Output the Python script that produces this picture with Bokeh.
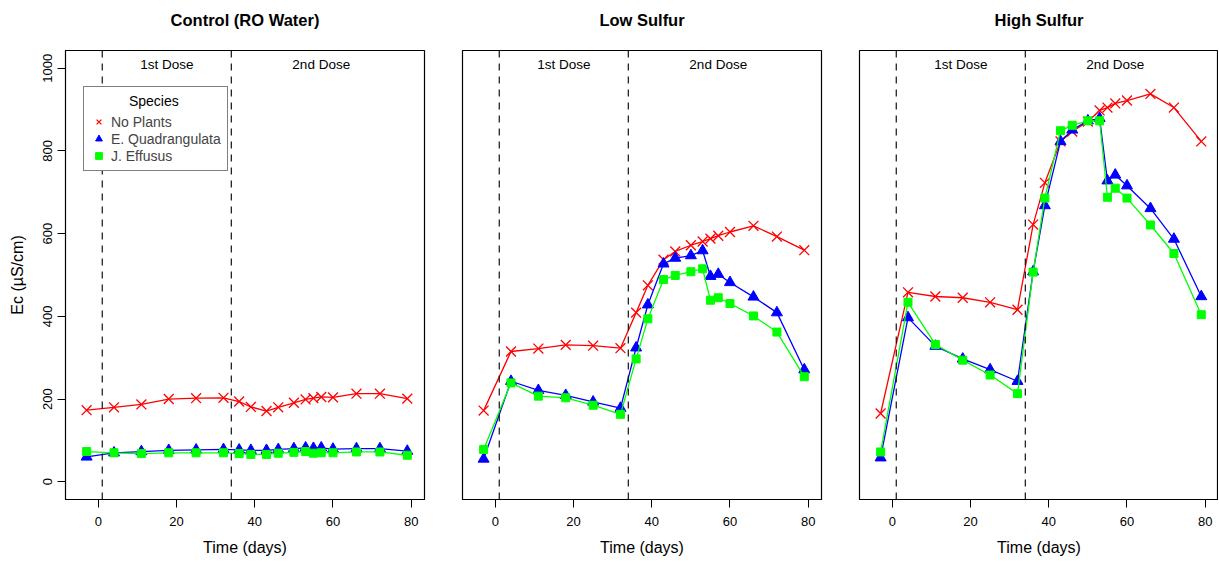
from bokeh.plotting import figure
from bokeh.layouts import row
from bokeh.models import Span, Legend, LegendItem, Range1d, FixedTicker, Title
from bokeh.core.properties import value
from bokeh.embed import file_html
from bokeh.resources import INLINE

# ---------------- data ----------------
days = [-3, 4, 11, 18, 25, 32, 36, 39, 43, 46, 50, 53, 55, 57, 60, 66, 72, 79]

panel_titles = ["Control (RO Water)", "Low Sulfur", "High Sulfur"]
species = ["No Plants", "E. Quadrangulata", "J. Effusus"]
legend_title = "Species"

control_no_plants = [173, 180, 187, 200, 202, 203, 194, 181, 171, 180, 191, 199, 202, 205, 204, 213, 213, 201]
control_e_quad = [60, 70, 73, 76, 77, 78, 77, 76, 76, 78, 80, 82, 81, 82, 79, 80, 80, 74]
control_j_eff = [73, 70, 68, 70, 70, 70, 68, 66, 66, 69, 71, 73, 69, 70, 70, 72, 72, 64]

low_no_plants = [172, 315, 322, 331, 329, 323, 409, 475, 537, 557, 572, 581, 588, 595, 604, 619, 593, 560]
low_e_quad = [55, 243, 221, 209, 193, 178, 324, 428, 527, 541, 547, 559, 497, 502, 482, 447, 409, 271]
low_j_eff = [78, 239, 207, 203, 185, 163, 297, 394, 489, 499, 508, 515, 439, 445, 431, 401, 362, 254]

high_no_plants = [165, 458, 448, 445, 434, 416, 622, 723, 823, 847, 871, 898, 905, 915, 922, 938, 905, 823]
high_e_quad = [58, 397, 328, 297, 271, 243, 508, 668, 823, 851, 873, 879, 728, 742, 716, 661, 587, 448]
high_j_eff = [72, 434, 332, 294, 258, 213, 507, 686, 849, 862, 873, 873, 688, 710, 686, 621, 552, 404]

dose_days = [1, 34]
dose_labels = ["1st Dose", "2nd Dose"]
dose_label_x = [17.5, 57]
dose_label_y = [1010, 1010]

x_ticks = [0, 20, 40, 60, 80]
y_ticks = [0, 200, 400, 600, 800, 1000]

panels = [
    (control_no_plants, control_e_quad, control_j_eff),
    (low_no_plants, low_e_quad, low_j_eff),
    (high_no_plants, high_e_quad, high_j_eff),
]

colors = ["#FF0000", "#0000FF", "#00FF00"]
markers = ["x", "triangle", "square"]
msizes = [14, 11, 8]

FONT = "Liberation Sans"

X_LO, X_HI = -8.4, 83.4
Y_LO, Y_HI = -43, 1043
FRAME_W = 359
TOP, BOTTOM = 50, 54
FRAME_H = 454
borders = [(65, 19), (19, 19), (19, 0)]

figs = []
for i, (title, series) in enumerate(zip(panel_titles, panels)):
    bl, br = borders[i]
    p = figure(width=bl + FRAME_W + br, height=TOP + FRAME_H + BOTTOM,
               x_range=Range1d(X_LO, X_HI), y_range=Range1d(Y_LO, Y_HI),
               output_backend="svg", toolbar_location=None,
               y_axis_location="left" if i == 0 else None,
               min_border_left=bl, min_border_right=br,
               min_border_top=TOP, min_border_bottom=BOTTOM)
    # spacer between frame and title (closest to the frame), then the title
    p.add_layout(Title(text=" ", text_font_size="1px", standoff=19), "above")
    p.add_layout(Title(text=title, text_font=FONT, text_font_size="16.5px",
                       text_font_style="bold", align="center",
                       vertical_align="bottom", text_color="black",
                       standoff=0), "above")

    p.xgrid.visible = False
    p.ygrid.visible = False
    p.outline_line_color = "black"
    p.outline_line_alpha = 1
    p.outline_line_width = 1.2
    p.background_fill_color = "white"
    p.border_fill_color = "white"

    axes = [p.xaxis[0]] + ([p.yaxis[0]] if i == 0 else [])
    for ax in axes:
        ax.axis_line_color = "black"
        ax.major_tick_line_color = "black"
        ax.major_tick_out = 8
        ax.major_tick_in = 0
        ax.minor_tick_line_color = None
        ax.major_label_text_font = FONT
        ax.major_label_text_font_size = "13px"
        ax.major_label_text_color = "black"
        ax.axis_label_text_font = FONT
        ax.axis_label_text_font_size = "16px"
        ax.axis_label_text_font_style = "normal"
        ax.axis_label_text_color = "black"
    p.xaxis[0].ticker = FixedTicker(ticks=x_ticks)
    p.xaxis[0].axis_label = "Time (days)"
    p.xaxis[0].major_label_standoff = 9
    p.xaxis[0].axis_label_standoff = 10
    if i == 0:
        p.yaxis[0].ticker = FixedTicker(ticks=y_ticks)
        p.yaxis[0].axis_label = "Ec (µS/cm)"
        p.yaxis[0].major_label_orientation = "vertical"
        p.yaxis[0].major_label_standoff = 5
        p.yaxis[0].axis_label_standoff = 15

    for d in dose_days:
        p.add_layout(Span(location=d, dimension="height", line_color="#111111",
                          line_width=1.2, line_dash="7 6"))
    p.text(x=dose_label_x, y=dose_label_y, text=dose_labels,
           text_font=value(FONT), text_font_size="13.5px", text_color="black",
           text_align="center", text_baseline="middle")

    scat = []
    for vals, c, m, s in zip(series, colors, markers, msizes):
        p.line(days, vals, line_color=c, line_width=1.3)
        r = p.scatter(days, vals, marker=m, size=s, line_color=c, fill_color=c,
                      line_width=1.3 if m == "x" else 1)
        scat.append(r)

    if i == 0:
        items = [LegendItem(label=lab, renderers=[r]) for lab, r in zip(species, scat)]
        # non-breaking spaces push the title to the centre of the box
        leg = Legend(items=items, location=(18, 328),
                     title="\u00a0" * 10 + legend_title,
                     border_line_color="black", border_line_width=1.2,
                     background_fill_color="white", background_fill_alpha=1,
                     label_text_font=FONT, label_text_font_size="14px",
                     title_text_font=FONT, title_text_font_size="14px",
                     title_text_font_style="normal", title_text_color="black",
                     glyph_width=17, glyph_height=17, label_height=17,
                     label_standoff=4, padding=6, spacing=0, title_standoff=4,
                     margin=0)
        p.add_layout(leg)
    figs.append(p)

layout = row(*figs)
open("out.html", "w").write(file_html(layout, INLINE))
